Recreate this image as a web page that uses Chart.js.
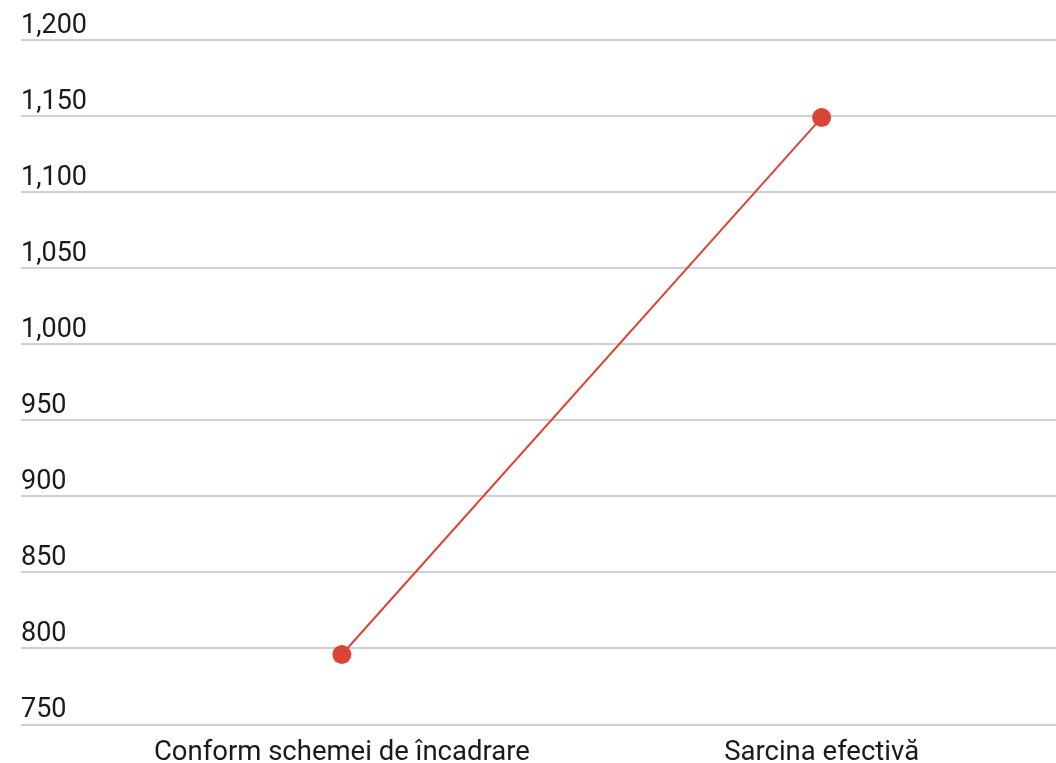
<!DOCTYPE html>
<html>
<head>
<meta charset="utf-8">
<script src="https://cdn.jsdelivr.net/npm/chart.js@4"></script>
<style>
  html, body { margin: 0; padding: 0; background: #fff; overflow: hidden; }
  #wrap { width: 1071px; height: 763px; position: relative; }
</style>
</head>
<body>
<div id="wrap"><canvas id="myChart1"></canvas></div>
<script>
const categories = ["Conform schemei de încadrare", "Sarcina efectivă"];
const values = [796, 1149];
const yMin = 750, yMax = 1200, yStep = 50;

const red = '#DB4437';

let ctx = document.getElementById('myChart1').getContext('2d');
let myChart1 = new Chart(ctx, {
  type: 'line',
  data: {
    labels: categories,
    datasets: [{
      data: values,
      borderColor: red,
      backgroundColor: red,
      borderWidth: 2,
      pointRadius: 9.5,
      pointHoverRadius: 9.5,
      pointBorderWidth: 0,
      fill: false,
    }]
  },
  options: {
    responsive: true,
    maintainAspectRatio: false,
    animation: false,
    layout: { padding: { left: 21, right: 0, top: 40, bottom: 0 } },
    plugins: { legend: { display: false }, tooltip: { enabled: false } },
    scales: {
      x: {
        offset: true,
        afterFit: (s) => { s.height = 38.5; },
        grid: { display: false },
        border: { display: false },
        ticks: {
          color: '#1a1a1a',
          font: { family: 'Roboto', size: 27.5 },
          padding: 4,
          maxRotation: 0,
        }
      },
      y: {
        min: yMin,
        max: yMax,
        afterFit: (s) => { s.width = 81; },
        grid: { color: '#d0d0d0', lineWidth: 2, tickLength: 81, drawTicks: true },
        border: { display: false },
        ticks: {
          stepSize: yStep,
          color: '#1a1a1a',
          crossAlign: 'far',
          labelOffset: -14,
          padding: 0,
          font: { family: 'Roboto', size: 27 },
        }
      }
    }
  },
});
</script>
</body>
</html>
